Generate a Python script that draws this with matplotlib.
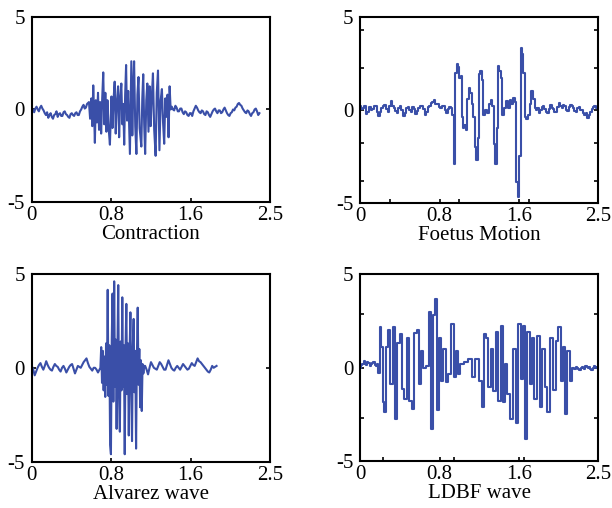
import numpy as np
import matplotlib
matplotlib.use("Agg")
import matplotlib.pyplot as plt

plt.rcParams['font.family'] = ['Liberation Serif', 'DejaVu Serif']

LINE = '#3a4fa8'

# ---- Contraction ----
con_pre_y = [0.1, -0.05, -0.15, 0.05, 0.15, 0.0, -0.1, 0.1, 0.2, 0.05, -0.05, -0.2,
             -0.3, -0.15, -0.45, -0.3, -0.2, -0.4, -0.5, -0.3, -0.25, -0.1, -0.4, -0.25,
             -0.2, -0.35, -0.35, -0.15, -0.1, -0.25, -0.3, -0.4, -0.45, -0.25, -0.2, -0.3,
             -0.35, -0.2, -0.15, -0.3, -0.3, -0.1, 0.0, 0.15, 0.25, 0.05, 0.1, 0.3]
con_burst_t = [0.600, 0.612, 0.625, 0.635, 0.645, 0.655, 0.662, 0.672, 0.684, 0.695, 0.706,
               0.717, 0.728, 0.739, 0.750, 0.761, 0.772, 0.783, 0.794, 0.805, 0.820, 0.836,
               0.847, 0.858, 0.870, 0.881, 0.893, 0.906, 0.917, 0.928, 0.940, 0.951, 0.960,
               0.970, 0.980, 0.990, 1.000, 1.012, 1.030, 1.045, 1.055, 1.064, 1.074, 1.086,
               1.098, 1.109, 1.120, 1.132, 1.150, 1.160, 1.170, 1.180, 1.190, 1.202, 1.213,
               1.225, 1.237, 1.248, 1.260, 1.272, 1.285, 1.300, 1.312, 1.325, 1.340, 1.353,
               1.366, 1.378, 1.390, 1.402, 1.414, 1.425, 1.436, 1.447, 1.458]
con_burst_y = [0.4, -0.5, 0.6, -0.9, 1.3, -0.4, -1.8, 0.5, -0.7, 0.9, -1.1,
               0.4, -1.3, 0.6, 2.0, -0.8, 0.9, -1.2, 0.5, -0.9, -1.9, 0.7,
               -1.0, 0.5, 1.5, -1.3, 0.4, 1.25, -1.5, 0.6, 1.4, -0.8, 0.3,
               -1.9, 0.8, 2.4, -0.6, 1.0, -2.4, 2.6, -1.4, 0.9, 2.6, -0.9,
               -2.4, 0.8, 1.75, -1.0, -2.0, 0.6, 1.9, -0.8, -2.4, 0.5, 1.4,
               -1.2, 1.25, -0.9, 0.7, 1.95, -1.1, -2.5, 0.9, 2.1, -2.2, 0.5,
               1.1, -0.7, -1.85, 0.6, -0.4, 0.8, -1.5, 1.25, 0.0]
con_post_y = [0.15, 0.0, -0.05, 0.2, 0.1, -0.1, -0.1, 0.05, 0.05, -0.15, -0.25, -0.1,
              -0.15, -0.3, -0.35, -0.2, -0.2, -0.35, -0.1, 0.05, 0.2, 0.1, -0.05, -0.15,
              -0.2, -0.05, -0.1, -0.25, -0.3, -0.1, -0.15, -0.3, -0.4, -0.25, -0.1, 0.0,
              0.05, -0.1, -0.2, -0.05, -0.05, -0.2, -0.15, 0.0, 0.1, -0.05, -0.2, -0.3,
              -0.35, -0.2, -0.15, 0.0, -0.05, 0.1, 0.15, 0.3, 0.35, 0.25, 0.2, 0.05,
              -0.05, -0.15, -0.2, -0.05, -0.1, -0.25, -0.35, -0.2, -0.15, 0.0, 0.05, -0.1,
              -0.3, -0.2]

# ---- Foetus Motion ----
fm_pre_y = [0.2, 0.05, 0.1, 0.2, -0.25, -0.1, 0.15, 0.0, 0.05, 0.2, 0.2, -0.1, -0.35, -0.1,
            0.1, 0.2, 0.25, 0.05, -0.1, 0.2, 0.45, 0.2, 0.1, -0.05, -0.15, 0.1, 0.2, 0.0,
            -0.35, -0.15, 0.1, 0.15, 0.0, -0.1, 0.15, 0.05, -0.25, -0.05, 0.1, 0.2, 0.2,
            0.05, -0.3, -0.1, 0.15, 0.2, 0.35, 0.4, 0.5, 0.3, 0.3, 0.15, 0.1, 0.2, 0.2, 0.0,
            -0.15, 0.05, 0.15, 0.1]
fm_event_t = [0.975, 0.985, 0.995, 1.005, 1.02, 1.035, 1.05, 1.06, 1.07, 1.085, 1.10, 1.115,
              1.13, 1.15, 1.165, 1.18, 1.20, 1.215, 1.228, 1.24, 1.255, 1.27, 1.285, 1.30,
              1.32, 1.34, 1.36, 1.38, 1.395, 1.41, 1.425, 1.44, 1.455, 1.47, 1.485, 1.50,
              1.52, 1.54, 1.56, 1.58, 1.60, 1.62, 1.635, 1.65, 1.665, 1.68, 1.69, 1.705,
              1.72, 1.735, 1.75, 1.77, 1.79, 1.81, 1.825, 1.84]
fm_event_y = [-0.3, -2.9, -1.5, 2.0, 2.45, 2.3, 1.7, 1.8, -0.4, -1.0, -0.8, -1.1,
              0.6, 1.15, 0.9, 0.3, -0.4, -2.0, -2.7, -1.5, 1.9, 2.1, 1.6, -0.3,
              0.0, -0.2, 0.3, 0.55, 0.2, -1.85, -2.9, -1.0, 2.35, 2.1, 1.7, -0.3,
              0.1, 0.45, 0.1, 0.5, 0.3, 0.65, 0.4, -3.9, -4.7, -2.5, 3.3, 3.0,
              2.0, -0.4, -0.5, -0.3, 0.3, 1.0, 0.6, 0.1]
fm_post_y = [0.0, 0.1, -0.15, 0.0, 0.15, 0.2, 0.05, -0.1, -0.2, 0.05, 0.25, 0.1, 0.05, -0.1,
             -0.1, 0.15, 0.35, 0.2, 0.1, 0.25, 0.2, 0.0, -0.05, 0.15, 0.25, 0.2, 0.1, -0.05,
             -0.1, 0.1, 0.15, 0.0, 0.0, -0.15, -0.3, -0.2, -0.45, -0.3, -0.1, 0.05, 0.15,
             0.2, 0.1, 0.15]

# ---- Alvarez wave ----
alv_pre_y = [0.1, -0.1, -0.4, -0.2, 0.0, 0.15, 0.25, 0.05, -0.1, 0.1, 0.35, 0.15, 0.0, -0.1,
             -0.15, 0.05, 0.2, 0.1, 0.05, -0.1, -0.2, 0.0, 0.1, -0.05, -0.25, -0.1, 0.05,
             0.15, 0.2, -0.05, -0.3, -0.1, 0.1, 0.05, 0.0, 0.15, 0.3, 0.4, 0.5, 0.25, 0.05,
             -0.05, -0.15, 0.0, 0.0, -0.1, -0.25, -0.1]
alv_burst_y = [0.0, 1.1, -0.8, 0.9, -1.2, 0.6, -1.55, 1.3, -0.9, 4.15, -1.5, 1.2, -4.1,
               -4.6, 1.5, 3.95, -1.8, 4.6, -1.0, 1.5, -3.25, 0.9, 4.4, -1.6, -3.4, 1.4,
               -1.2, 3.75, -1.0, 1.2, -4.6, 1.0, 3.4, -1.4, 1.3, -3.6, 0.8, 2.95, -1.1,
               -3.9, 1.1, 2.6, -1.3, 0.9, -4.3, 0.6, 3.2, -0.9, 1.0, -2.1, 0.4, -2.3,
               0.2, -0.3, 0.1]
alv_post_y = [0.1, -0.1, -0.35, 0.0, 0.3, 0.15, 0.0, -0.05, -0.1, 0.1, 0.3, 0.2, 0.05, -0.1,
              -0.1, 0.15, 0.4, 0.2, 0.0, -0.1, -0.15, 0.0, 0.1, 0.0, -0.1, 0.05, 0.2, 0.1,
              0.0, -0.1, -0.05, 0.1, 0.25, 0.15, 0.1, 0.3, 0.5, 0.35, 0.3, 0.2, 0.1, 0.0,
              -0.1, -0.2, -0.25, -0.1, 0.1, 0.0, 0.05, 0.1]

# ---- LDBF wave ----
ld_pre_y = [0.0, 0.15, 0.2, 0.35, 0.2, 0.15, 0.3, 0.25, 0.1, 0.2, 0.25, 0.3, 0.15, 0.1,
            0.2, -0.3]
ld_osc_t = [0.21, 0.228, 0.245, 0.256, 0.28, 0.298, 0.326, 0.35, 0.375, 0.403, 0.428, 0.449,
            0.473, 0.498, 0.526, 0.55, 0.579, 0.603, 0.624, 0.649, 0.677, 0.70, 0.736, 0.754,
            0.778, 0.80, 0.817, 0.84, 0.86, 0.887, 0.91, 0.94, 0.975, 0.992, 1.017, 1.034,
            1.07, 1.10, 1.157, 1.19, 1.227, 1.262, 1.29, 1.315, 1.332, 1.36, 1.385, 1.41,
            1.438, 1.466, 1.49, 1.508, 1.525, 1.56, 1.595, 1.62, 1.648, 1.676, 1.694, 1.718,
            1.746, 1.77, 1.80, 1.816, 1.84, 1.876, 1.90, 1.928, 1.957, 1.98, 2.016, 2.04,
            2.07, 2.097, 2.12, 2.14, 2.167, 2.19, 2.216, 2.244]
ld_osc_y = [2.15, 1.1, -1.85, -2.4, 1.1, 2.0, -0.9, 2.2, -2.75, 1.3, 1.8, -1.15,
            -1.7, 1.6, -1.8, -2.2, 1.85, 2.0, -0.9, 0.9, 0.0, 0.1, 3.0, -3.3,
            2.8, 3.7, -2.3, 1.6, -0.7, 1.0, -0.8, -0.35, 2.35, -0.5, 0.9, -0.35,
            0.2, 0.3, 0.45, -0.5, 0.45, -0.7, -2.1, 1.8, 1.6, -1.05, 1.0, -1.25,
            1.9, -1.8, 2.25, -1.85, 0.2, -1.4, -2.75, 1.0, -3.0, 2.35, -0.6, 2.25,
            -3.85, 1.9, -0.9, 1.6, -1.7, 1.7, -2.1, 1.0, -1.05, -2.4, 1.6, -1.2,
            1.45, 2.15, -0.7, 1.1, -2.5, 0.9, -0.7, 0.0]
ld_post_y = [-0.1, 0.05, 0.0, -0.1, -0.15, 0.0, 0.05, -0.05, -0.1, 0.1, 0.05, -0.05, 0.05,
             -0.1, -0.15, 0.0, 0.1, 0.05, 0.0, 0.05]

# each panel: list of (t, y) pieces drawn end to end
panels = [
    dict(label='Contraction', rect=[0.052, 0.602, 0.389, 0.365], style='default',
         pieces=[(np.linspace(0, 0.58, len(con_pre_y)), con_pre_y),
                 (con_burst_t, con_burst_y),
                 (np.linspace(1.47, 2.39, len(con_post_y)), con_post_y)],
         xminor=[], yminor=[]),
    dict(label='Foetus Motion', rect=[0.589, 0.601, 0.388, 0.366], style='steps-mid',
         pieces=[(np.linspace(0, 0.96, len(fm_pre_y)), fm_pre_y),
                 (fm_event_t, fm_event_y),
                 (np.linspace(1.855, 2.5, len(fm_post_y)), fm_post_y)],
         xminor=[0.31, 1.04, 1.77], yminor=[4.3, 2.25, -1.8, -3.85]),
    dict(label='Alvarez wave', rect=[0.052, 0.091, 0.389, 0.370], style='default',
         pieces=[(np.linspace(0, 0.71, len(alv_pre_y)), alv_pre_y),
                 (np.linspace(0.72, 1.18, len(alv_burst_y)), alv_burst_y),
                 (np.linspace(1.19, 1.94, len(alv_post_y)), alv_post_y)],
         xminor=[], yminor=[]),
    dict(label='LDBF wave', rect=[0.589, 0.093, 0.388, 0.367], style='steps-mid',
         pieces=[(np.linspace(0, 0.195, len(ld_pre_y)), ld_pre_y),
                 (ld_osc_t, ld_osc_y),
                 (np.linspace(2.26, 2.5, len(ld_post_y)), ld_post_y)],
         xminor=[0.24, 0.98, 1.72], yminor=[2.85, -2.7]),
]

fig = plt.figure(figsize=(6.12, 5.08), dpi=100)

for p in panels:
    ax = fig.add_axes(p['rect'])
    t = np.concatenate([np.asarray(pt, float) for pt, _ in p['pieces']])
    y = np.concatenate([np.asarray(py, float) for _, py in p['pieces']])
    ax.plot(t, y, color=LINE, lw=1.5, drawstyle=p['style'])
    ax.set_xlim(0, 2.5)
    ax.set_ylim(-5, 5)
    ax.set_yticks([-5, 0, 5])
    ax.set_yticklabels(['-5', '0', '5'])
    ax.set_xticks([0, 2.5 / 3, 5 / 3, 2.5])
    ax.set_xticklabels(['0', '0.8', '1.6', '2.5'])
    if p['xminor']:
        ax.tick_params(axis='x', which='major', length=0)
        ax.set_xticks(p['xminor'], minor=True)
    if p['yminor']:
        ax.set_yticks(p['yminor'], minor=True)
    ax.tick_params(which='both', direction='in', length=3, width=1.2,
                   right=True, labelsize=15)
    ax.tick_params(axis='y', which='major', pad=5)
    ax.tick_params(axis='x', which='major', pad=3)
    for s in ax.spines.values():
        s.set_linewidth(1.5)
    ax.set_xlabel(p['label'], fontsize=15, labelpad=0)

fig.savefig('out.png', dpi=100)
